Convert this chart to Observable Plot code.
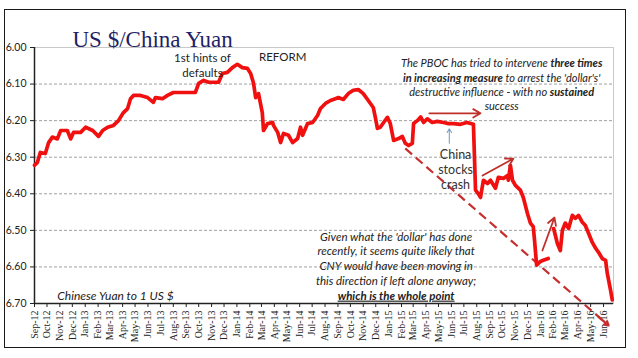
<!DOCTYPE html>
<html><head><meta charset="utf-8">
<script src="https://cdn.jsdelivr.net/npm/d3@7"></script>
<script src="https://cdn.jsdelivr.net/npm/@observablehq/plot@0.6"></script>
<style>
body{margin:0;background:#fff;}
#wrap{position:relative;width:638px;height:358px;overflow:hidden;}
#border{position:absolute;left:4px;top:9px;width:620px;height:337px;border:1.5px solid #1a1a1a;pointer-events:none;}
</style></head><body>
<div id="wrap"><div id="border"></div></div>
<script>
// ---- data ----
const dates = [
"2012-09-01","2012-09-08","2012-09-15","2012-09-27","2012-10-05","2012-10-14","2012-10-26","2012-11-03","2012-11-19","2012-11-27",
"2012-12-04","2012-12-21","2013-01-02","2013-01-19","2013-02-02","2013-02-12","2013-02-24","2013-03-10","2013-03-22","2013-04-03",
"2013-04-13","2013-04-20","2013-04-27","2013-05-14","2013-05-31","2013-06-14","2013-06-19","2013-07-06","2013-07-18","2013-08-01",
"2013-08-18","2013-09-23","2013-10-01","2013-10-13","2013-10-25","2013-11-18","2013-11-27","2013-12-09","2013-12-21","2014-01-02",
"2014-01-14","2014-01-26","2014-02-03","2014-02-10","2014-02-15","2014-02-22","2014-03-03","2014-03-06","2014-03-16","2014-03-28",
"2014-03-30","2014-04-09","2014-04-16","2014-04-23","2014-05-05","2014-05-15","2014-05-27","2014-06-03","2014-06-08","2014-06-20",
"2014-07-02","2014-07-14","2014-07-21","2014-08-02","2014-08-14","2014-08-26","2014-09-02","2014-09-14","2014-09-26","2014-10-08",
"2014-10-20","2014-11-01","2014-11-13","2014-11-25","2014-11-30","2014-12-05","2014-12-12","2014-12-20","2014-12-29","2015-01-05",
"2015-01-13","2015-01-25","2015-02-03","2015-02-10","2015-02-18","2015-02-27","2015-03-02","2015-03-11","2015-03-19","2015-03-26",
"2015-04-04","2015-04-16","2015-04-28","2015-05-13","2015-05-25","2015-06-06","2015-06-23","2015-07-08","2015-07-24","2015-07-29",
"2015-08-05","2015-08-10","2015-08-17","2015-08-27","2015-09-03","2015-09-15","2015-09-22","2015-10-04","2015-10-14","2015-10-16",
"2015-10-21","2015-10-26","2015-11-02","2015-11-14","2015-11-21","2015-12-01","2015-12-08","2015-12-15","2015-12-18","2015-12-23",
"2016-01-01","2016-01-08","2016-01-20","2016-01-27","2016-02-02","2016-02-11","2016-02-18","2016-02-23","2016-03-01","2016-03-09",
"2016-03-18","2016-03-25","2016-04-02","2016-04-11","2016-04-18","2016-04-26","2016-05-05","2016-05-13","2016-05-20","2016-05-29",
"2016-06-06","2016-06-10","2016-06-18","2016-06-22"
];
const values = [
6.322,6.314,6.287,6.290,6.260,6.245,6.250,6.227,6.227,6.250,
6.232,6.232,6.218,6.227,6.243,6.227,6.218,6.213,6.200,6.178,
6.167,6.140,6.131,6.131,6.137,6.150,6.137,6.140,6.131,6.123,
6.123,6.123,6.098,6.090,6.095,6.095,6.071,6.068,6.055,6.046,
6.055,6.057,6.071,6.098,6.137,6.126,6.178,6.227,6.208,6.205,
6.213,6.232,6.260,6.235,6.240,6.260,6.249,6.218,6.240,6.208,
6.205,6.186,6.167,6.153,6.145,6.140,6.137,6.142,6.126,6.117,
6.115,6.126,6.145,6.164,6.191,6.221,6.218,6.205,6.191,6.208,
6.254,6.249,6.243,6.262,6.268,6.262,6.208,6.200,6.190,6.205,
6.195,6.205,6.202,6.205,6.208,6.208,6.210,6.205,6.210,6.390,
6.400,6.410,6.363,6.372,6.363,6.385,6.355,6.358,6.350,6.363,
6.322,6.363,6.377,6.390,6.410,6.454,6.480,6.490,6.527,6.595,
6.585,6.582,6.577,NaN,6.495,6.536,6.555,6.500,6.480,6.495,
6.459,6.467,6.459,6.478,6.486,6.508,6.533,6.549,6.560,6.577,
6.582,6.617,6.664,6.690
];
const yTicks = [6.0, 6.1, 6.2, 6.3, 6.4, 6.5, 6.6, 6.7];
const xStart = "2012-09-01", xEnd = "2016-06-25";
const titleText = "US $/China Yuan";
const unitText = "Chinese Yuan to 1 US $";
const hintsText = "1st hints of\ndefaults";
const reformText = "REFORM";
const crashText = "China\nstocks\ncrash";
const pbocLines = ["The PBOC has tried to intervene **three times**",
  "**in increasing measure** to arrest the 'dollar's'",
  "destructive influence - with no **sustained**",
  "success"];
const givenLines = ["Given what the 'dollar' has done",
  "recently, it seems quite likely that",
  "CNY would have been moving in",
  "this direction if left alone anyway;",
  "__**which is the whole point**__"];

// ---- build ----
const parse = d3.utcParse("%Y-%m-%d");
const data = dates.map((d, i) => ({date: parse(d), value: values[i]}));
const x0 = parse(xStart), x1 = parse(xEnd);
const monthTicks = d3.utcMonth.range(x0, d3.utcDay.offset(x1, 1));
const P = (d, v) => ({x: parse(d), y: v});

const redArrows = [
  {a: P("2015-04-09", 6.180), b: P("2015-08-10", 6.180)},
  {a: P("2015-08-15", 6.350), b: P("2015-10-28", 6.304)},
  {a: P("2016-01-06", 6.555), b: P("2016-02-04", 6.465)}
].map(o => ({x1: o.a.x, y1: o.a.y, x2: o.b.x, y2: o.b.y}));
const blueArrow = [{x1: parse("2015-05-27"), y1: 6.262, x2: parse("2015-05-27"), y2: 6.222}];
const dashA = P("2015-02-10", 6.276), dashB = P("2016-06-13", 6.760);
const dashLine = [{x1: dashA.x, y1: dashA.y, x2: dashB.x, y2: dashB.y}];
const tail = {x: new Date(+dashA.x + (dashB.x - dashA.x) * 0.95), y: dashA.y + (dashB.y - dashA.y) * 0.95};
const dashHead = [{x1: tail.x, y1: tail.y, x2: dashB.x, y2: dashB.y}];

const chart = Plot.plot({
  width: 638, height: 358,
  marginLeft: 34, marginRight: 25, marginTop: 47, marginBottom: 55,
  style: {fontFamily: "Lato, sans-serif", fontSize: "11px", background: "transparent", color: "#222"},
  x: {type: "utc", domain: [x0, x1], label: null},
  y: {domain: [6.0, 6.7], reverse: true, label: null},
  marks: [
    Plot.gridY(yTicks.slice(1, -1), {stroke: "#a0a0a0", strokeOpacity: 1, strokeDasharray: "3,2"}),
    Plot.frame({stroke: "#c8c8c8"}),
    Plot.axisY(yTicks, {tickSize: 4, tickPadding: 4, tickFormat: d => d.toFixed(2), fontSize: 10.5, label: null}),
    Plot.axisX(monthTicks, {tickSize: 4, tickPadding: 3, tickRotate: -90, tickFormat: d3.utcFormat("%b-%y"),
      fontFamily: "Liberation Serif, serif", fontSize: 10, label: null}),
    Plot.ruleX([x0], {stroke: "#222", strokeWidth: 1.5}),
    Plot.ruleY([6.7], {stroke: "#222", strokeWidth: 1.5}),
    Plot.link(dashLine, {x1: "x1", y1: "y1", x2: "x2", y2: "y2", stroke: "#c62f2f", strokeWidth: 2.2, strokeDasharray: "9,5"}),
    Plot.arrow(dashHead, {x1: "x1", y1: "y1", x2: "x2", y2: "y2", stroke: "#c62f2f", strokeWidth: 2.2, headLength: 7}),
    Plot.line(data, {x: "date", y: "value", stroke: "#f01010", strokeWidth: 3.7, strokeLinejoin: "round"}),
    Plot.arrow(redArrows, {x1: "x1", y1: "y1", x2: "x2", y2: "y2", stroke: "#c0302b", strokeWidth: 1.8, headLength: 7}),
    Plot.arrow(blueArrow, {x1: "x1", y1: "y1", x2: "x2", y2: "y2", stroke: "#7f9fc4", strokeWidth: 1.1, headLength: 6}),
    Plot.text([titleText], {frameAnchor: "top-left", dx: 38, dy: -17, text: d => d, textAnchor: "start",
      fontFamily: "Liberation Serif, serif", fontSize: 23, fill: "#1f1f66"}),
    Plot.text([unitText], {x: () => parse("2012-10-26"), y: () => 6.681, text: d => d, textAnchor: "start",
      fontStyle: "italic", fontSize: 12, fill: "#222"}),
    Plot.text([hintsText], {x: () => parse("2013-10-10"), y: () => 6.048, text: d => d, fontSize: 11.5, lineHeight: 1.3, fill: "#222"}),
    Plot.text([reformText], {x: () => parse("2014-04-21"), y: () => 6.027, text: d => d, fontSize: 11.5, fill: "#222"}),
    Plot.text([crashText], {x: () => parse("2015-06-11"), y: () => 6.334, text: d => d, fontSize: 12.5, lineHeight: 1.2, fill: "#333"}),
    Plot.text([pbocLines.join("\n")], {x: () => parse("2015-09-30"), y: () => 6.100, text: d => d,
      fontStyle: "italic", fontSize: 11, lineHeight: 1.3, fill: "#222"}),
    Plot.text([givenLines.join("\n")], {x: () => parse("2015-01-19"), y: () => 6.596, text: d => d,
      fontStyle: "italic", fontSize: 11.5, lineHeight: 1.28, fill: "#222"})
  ]
});

// rich text: **bold**, __underline__
const NS = "http://www.w3.org/2000/svg";
chart.querySelectorAll("text, tspan").forEach(n => {
  if (n.children.length) return;
  const s = n.textContent;
  if (!/\*\*|__/.test(s)) return;
  n.textContent = "";
  let bold = false, under = false;
  for (const p of s.split(/(\*\*|__)/)) {
    if (p === "**") { bold = !bold; continue; }
    if (p === "__") { under = !under; continue; }
    if (!p) continue;
    const t = document.createElementNS(NS, "tspan");
    t.textContent = p;
    if (bold) t.setAttribute("font-weight", "bold");
    if (under) t.setAttribute("text-decoration", "underline");
    n.appendChild(t);
  }
});

document.getElementById("wrap").prepend(chart);
</script>
</body></html>
